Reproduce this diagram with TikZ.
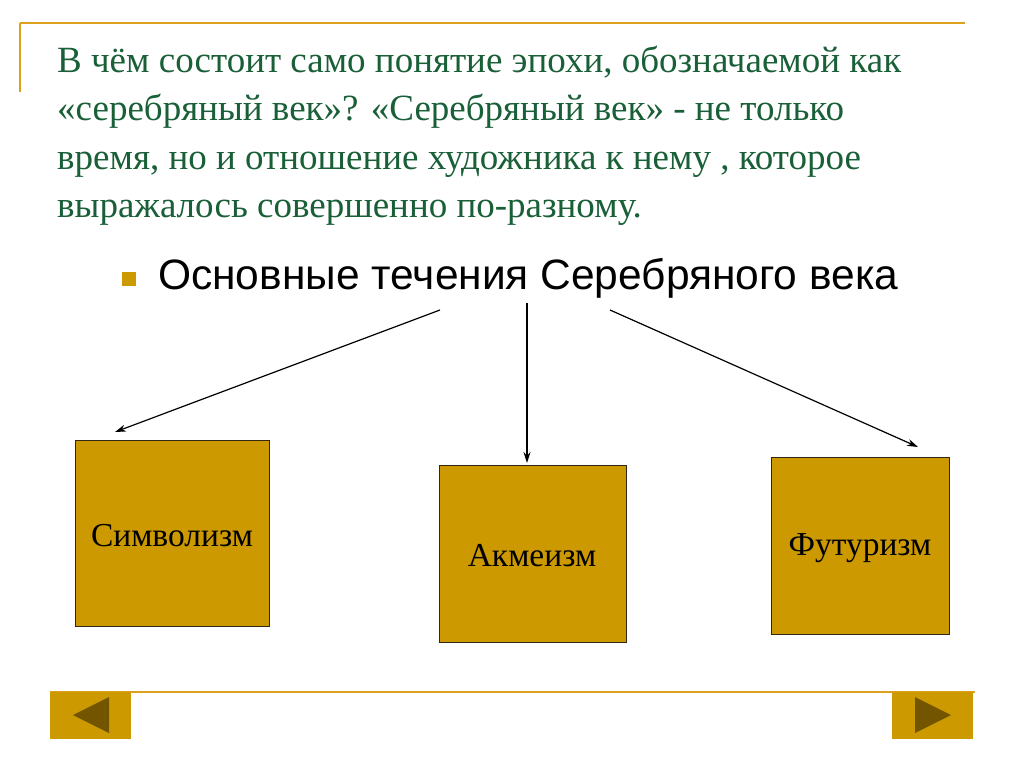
\documentclass[tikz,border=0pt]{standalone}
\usepackage{fontspec}
\setmainfont{Liberation Serif}
\newfontfamily\arialf{Liberation Sans}
\usetikzlibrary{arrows.meta}
\definecolor{gold}{RGB}{204,153,0}
\definecolor{goldline}{RGB}{220,160,30}
\definecolor{darkgold}{RGB}{115,85,0}
\definecolor{titlegreen}{RGB}{25,95,55}
\definecolor{boxedge}{RGB}{50,40,20}
\tikzset{
  box/.style={draw=boxedge, line width=1pt, fill=gold, anchor=north west, inner sep=0pt},
  boxtext/.style={font=\fontsize{33.5}{38}\selectfont},
  titleline/.style={anchor=base west, inner sep=0pt, text=titlegreen, font=\fontsize{37}{44}\selectfont},
  conn/.style={-{Stealth[length=11pt,width=7pt]}, line width=1.2pt},
  btn/.style={fill=gold, draw=none},
  tri/.style={fill=darkgold, draw=none}
}
\begin{document}
\begin{tikzpicture}[x=1pt,y=-1pt]
\useasboundingbox (0,0) rectangle (1024,767);
\fill[white] (0,0) rectangle (1024,767);
% top frame
\draw[goldline, line width=2pt] (20,23) -- (965,23);
\draw[goldline, line width=1.5pt] (20,23) -- (20,92);
% title
\node[titleline] (t1) at (57,73) {В чём состоит само понятие эпохи, обозначаемой как};
\node[titleline] (t2) at (57,121) {«серебряный век»? «Серебряный век» - не только};
\node[titleline] (t3) at (57,170) {время, но и отношение художника к нему , которое};
\node[titleline] (t4) at (57,218) {выражалось совершенно по-разному.};
% bullet
\fill[gold] (122,272) rectangle (136,286);
\node[anchor=base west, inner sep=0pt, font=\arialf\fontsize{42.5}{48}\selectfont] (head) at (158,289) {Основные течения Серебряного века};
% boxes
\node[box, minimum width=194pt, minimum height=186pt] (sym) at (75,440) {};
\node[boxtext] at (172,536) {Символизм};
\node[box, minimum width=187pt, minimum height=177pt] (akm) at (439,465) {};
\node[boxtext] at (532,556) {Акмеизм};
\node[box, minimum width=178pt, minimum height=177pt] (fut) at (771,457) {};
\node[boxtext] at (860,548) {Футуризм};
% arrow anchors
\coordinate (s1) at (440,310);
\coordinate (s2) at (527,303);
\coordinate (s3) at (610,310);
\coordinate (e1) at (115,432);
\coordinate (e2) at (527,463);
\coordinate (e3) at (918,447);
\draw[conn] (s1) -- (e1);
\draw[conn] (s2) -- (e2);
\draw[conn] (s3) -- (e3);
% bottom bar
\draw[goldline, line width=2pt] (50,692) -- (975,692);
\fill[btn] (50,692) rectangle (131,739);
\fill[tri] (73,715) -- (109,697) -- (109,733) -- cycle;
\fill[btn] (892,692) rectangle (973,739);
\fill[tri] (951,715) -- (915,697) -- (915,733) -- cycle;
\end{tikzpicture}
\end{document}
